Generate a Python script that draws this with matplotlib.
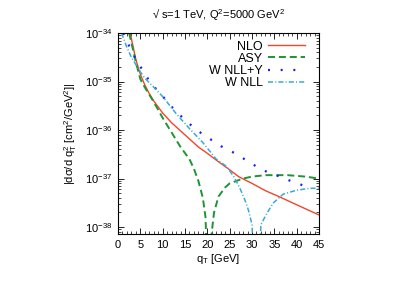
import numpy as np
import matplotlib
matplotlib.use('Agg')
import matplotlib.pyplot as plt
from matplotlib import ticker

plt.rcParams['font.family'] = ['Liberation Sans', 'DejaVu Sans']
plt.rcParams['mathtext.fontset'] = 'custom'
plt.rcParams['mathtext.rm'] = 'Liberation Sans'
plt.rcParams['mathtext.it'] = 'Liberation Sans:italic'
plt.rcParams['font.size'] = 8

# values, as log10 of |dsigma/dqT^2| in cm^2/GeV^2
nlo_x = [2.7, 3, 4, 5, 6, 7, 8, 10, 12, 15, 18, 20, 22, 25, 27, 30, 33, 36, 40, 45]
nlo_y = [-34.0, -34.12, -34.55, -34.85, -35.07, -35.25, -35.4, -35.65, -35.85, -36.1,
         -36.35, -36.48, -36.62, -36.82, -36.96, -37.1, -37.25, -37.37, -37.54, -37.75]

asy_x = [2.5, 3, 4, 5, 6, 7, 8, 10, 12, 14, 16, 17, 18, 19, 19.6, 20.3, 21, 21.5, 22.5,
         24, 25, 28, 30, 33, 38, 42, 45]
asy_y = [-34.0, -34.2, -34.6, -34.95, -35.12, -35.27, -35.42, -35.75, -36.05, -36.35,
         -36.6, -36.8, -37.05, -37.4, -37.8, -40.0, -38.1, -37.7, -37.37,
         -37.18, -37.1, -37.0, -36.96, -36.93, -36.93, -36.96, -37.0]

wnlly_x = [1.2, 2.7, 4.2, 5.7, 7.2, 8.7, 11.3, 12, 15.4, 19.1, 22.1, 23.2, 26.2, 29.2,
           32.2, 35.1, 38.1, 41.1, 43.5]
wnlly_y = [-34.0, -34.31, -34.58, -34.79, -35.02, -35.17, -35.44, -35.52, -35.83, -36.1,
           -36.27, -36.34, -36.48, -36.65, -36.82, -36.92, -37.03, -37.13, -37.2]

wnll_x = [0.8, 2, 3, 4, 5, 6, 7.5, 10, 13, 16, 19, 22, 24.3, 26, 27.3, 28.4, 29.2, 30,
          31, 32, 33.3, 34.8, 37, 40, 43, 45]
wnll_y = [-34.0, -34.3, -34.5, -34.65, -34.8, -34.93, -35.07, -35.31, -35.66, -35.97,
          -36.26, -36.6, -36.75, -36.97, -37.2, -37.44, -37.65, -37.95,
          -40.0, -37.95, -37.72, -37.5, -37.32, -37.24, -37.2, -37.2]

y_ticks = [1e-38, 1e-37, 1e-36, 1e-35, 1e-34]

fig = plt.figure(figsize=(4.03, 2.82), dpi=100)
ax = fig.add_axes([118 / 403, 1 - 234 / 282, 201 / 403, 201 / 282])

ax.plot(nlo_x, 10.0 ** np.array(nlo_y), color='#f2452a', lw=1.0, label='NLO')
ax.plot(asy_x, 10.0 ** np.array(asy_y), color='#1e9433', lw=1.4,
        dashes=(3.6, 2.0), label='ASY')
ax.plot(wnlly_x, 10.0 ** np.array(wnlly_y), color='#1c1cf5', lw=1.6,
        dashes=(0.9, 4.8), label='W NLL+Y')
ax.plot(wnll_x, 10.0 ** np.array(wnll_y), color='#3aaad2', lw=1.1,
        dashes=(3.3, 1.4, 0.7, 1.4), label='W NLL')

ax.set_yscale('log')
ax.set_xlim(0, 45)
ax.set_ylim(7.2e-39, 1e-34)
ax.xaxis.set_major_locator(ticker.MultipleLocator(5))
ax.xaxis.set_minor_locator(ticker.MultipleLocator(1))
ax.yaxis.set_major_locator(ticker.FixedLocator(y_ticks))
ax.yaxis.set_major_formatter(ticker.LogFormatterSciNotation())
ax.yaxis.set_minor_locator(ticker.LogLocator(base=10, subs=np.arange(2, 10), numticks=20))
ax.yaxis.set_minor_formatter(ticker.NullFormatter())
ax.tick_params(which='both', direction='in', top=True, right=True, labelsize=8, pad=4)
ax.tick_params(which='major', length=4, width=0.6)
ax.tick_params(which='minor', length=2, width=0.5)
for s in ax.spines.values():
    s.set_linewidth(0.8)

ax.set_xlabel(r'q$_\mathrm{T}$ [GeV]', fontsize=8, labelpad=2)
ax.set_ylabel(r'|dσ/d q$_\mathrm{T}^2$ [cm$^2$/GeV$^2$]|', fontsize=8, labelpad=4)
ax.set_title(r'√ s=1 TeV, Q$^2$=5000 GeV$^2$', fontsize=8, pad=10)

ax.legend(loc='upper right', markerfirst=False, frameon=False, fontsize=9,
          handlelength=3.0, handletextpad=0.4, labelspacing=0.02,
          borderaxespad=0.2, bbox_to_anchor=(0.97, 1.0))

fig.savefig('out.png', dpi=100)
